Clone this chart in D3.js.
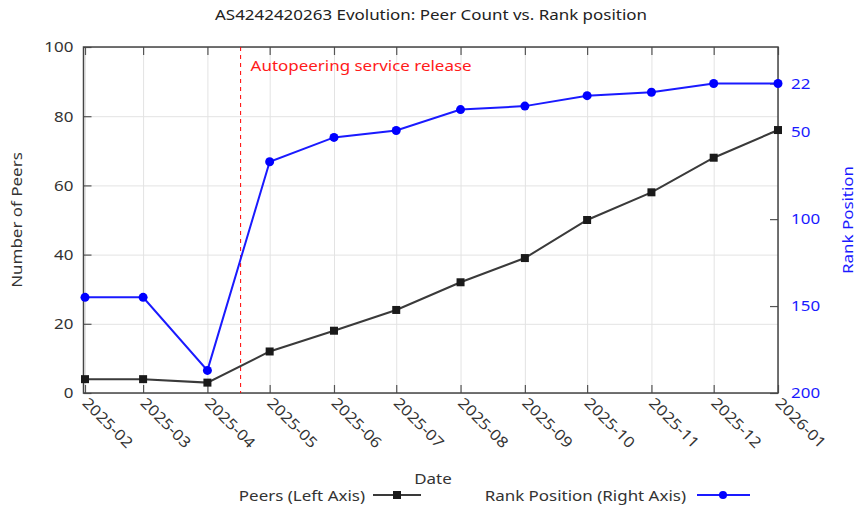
<!DOCTYPE html>
<html>
<head>
<meta charset="utf-8">
<script src="https://cdn.jsdelivr.net/npm/d3@7"></script>
<style>
  body { margin: 0; background: #fff; }
  text { font-family: "Noto Sans", sans-serif; font-size: 15px; }
</style>
</head>
<body>
<svg id="chart" width="858" height="506"></svg>
<script>
// DATA
const months = ["2025-02", "2025-03", "2025-04", "2025-05", "2025-06", "2025-07",
                "2025-08", "2025-09", "2025-10", "2025-11", "2025-12", "2026-01"];
const peers = [4, 4, 3, 12, 18, 24, 32, 39, 50, 58, 68, 76];
const ranks = [145, 145, 187, 67, 53, 49, 37, 35, 29, 27, 22, 22];
const peerTicks = [0, 20, 40, 60, 80, 100];
const rankTicks = [22, 50, 100, 150, 200];
const releaseDate = "2025-04-17";
const releaseLabel = "Autopeering service release";

// LAYOUT
const plotL = 83.5, plotR = 778, plotT = 47, plotB = 393;
const SX = 1.13; // the source renders its font a bit wide
const parse = d3.utcParse("%Y-%m");
const dates = months.map(parse);

const svg = d3.select("#chart");

// text placed at (x,y), stretched horizontally like the original
const label = (x, y, str, anchor, fill, rot) =>
  svg.append("text")
    .attr("transform", `translate(${x},${y})${rot ? ` rotate(${rot})` : ""} scale(${SX},1)`)
    .attr("text-anchor", anchor)
    .attr("fill", fill)
    .text(str);

const x = d3.scaleUtc()
  .domain([dates[0], dates[dates.length - 1]])
  .range([plotL + 1.5, plotR]);
const yL = d3.scaleLinear().domain([0, 100]).range([plotB, plotT]);
const yR = d3.scaleLinear().domain([1, 200]).range([plotT, plotB]);

// grid
svg.append("g")
  .attr("class", "grid")
  .attr("transform", `translate(0,${plotB})`)
  .call(d3.axisBottom(x).tickValues(dates).tickSize(-(plotB - plotT)).tickFormat(""));
svg.append("g")
  .attr("class", "grid")
  .attr("transform", `translate(${plotL},0)`)
  .call(d3.axisLeft(yL).tickValues(peerTicks).tickSize(-(plotR - plotL)).tickFormat(""));
svg.selectAll(".grid line").attr("stroke", "#e3e3e3");

// axes
const fmt = d3.utcFormat("%Y-%m");
const xAxis = svg.append("g")
  .attr("class", "axis")
  .attr("transform", `translate(0,${plotB})`)
  .call(d3.axisBottom(x).tickValues(dates).tickSize(-8).tickPadding(0).tickFormat(fmt));
xAxis.selectAll("text")
  .attr("font-size", null)
  .attr("fill", "#333")
  .attr("text-anchor", "start")
  .attr("dy", null)
  .attr("y", 0)
  .attr("transform", `translate(-4,11) rotate(45) scale(${SX},1)`);

svg.append("g")
  .attr("class", "axis")
  .attr("transform", `translate(0,${plotT})`)
  .call(d3.axisTop(x).tickValues(dates).tickSize(-8).tickFormat(""));

const yAxis = svg.append("g")
  .attr("class", "axis")
  .attr("transform", `translate(${plotL},0)`)
  .call(d3.axisLeft(yL).tickValues(peerTicks).tickSize(-8).tickPadding(9));
yAxis.selectAll("text")
  .attr("font-size", null).attr("fill", "#333")
  .attr("transform", `scale(${SX},1)`);

const rAxis = svg.append("g")
  .attr("class", "axis")
  .attr("transform", `translate(${plotR},0)`)
  .call(d3.axisRight(yR).tickValues(rankTicks).tickSize(-8).tickPadding(11.5));
rAxis.selectAll("text")
  .attr("font-size", null).attr("fill", "#1a1aff")
  .attr("transform", `scale(${SX},1)`);

svg.selectAll(".axis").attr("font-family", null);
svg.selectAll(".domain").remove();
svg.selectAll(".axis .tick line").attr("stroke", "#555").attr("stroke-width", 1.2);

// border
svg.append("rect")
  .attr("x", plotL).attr("y", plotT)
  .attr("width", plotR - plotL).attr("height", plotB - plotT)
  .attr("fill", "none").attr("stroke", "#444").attr("stroke-width", 1.5);

// release marker
const rx = x(d3.utcParse("%Y-%m-%d")(releaseDate));
svg.append("line")
  .attr("x1", rx).attr("x2", rx).attr("y1", plotT).attr("y2", plotB)
  .attr("stroke", "#ff0000").attr("stroke-width", 1).attr("stroke-dasharray", "4,4");
label(rx + 10, 71, releaseLabel, "start", "#ff1a1a");

// peers line
svg.append("path")
  .datum(peers)
  .attr("fill", "none").attr("stroke", "#3a3a3a").attr("stroke-width", 2)
  .attr("d", d3.line().x((d, i) => x(dates[i])).y(d => yL(d)));
svg.selectAll(".peer-pt")
  .data(peers)
  .enter().append("rect")
  .attr("class", "peer-pt")
  .attr("x", (d, i) => x(dates[i]) - 4).attr("y", d => yL(d) - 4)
  .attr("width", 8).attr("height", 8)
  .attr("fill", "#1a1a1a");

// rank line
svg.append("path")
  .datum(ranks)
  .attr("fill", "none").attr("stroke", "#1a1aff").attr("stroke-width", 2)
  .attr("d", d3.line().x((d, i) => x(dates[i])).y(d => yR(d)));
svg.selectAll(".rank-pt")
  .data(ranks)
  .enter().append("circle")
  .attr("class", "rank-pt")
  .attr("cx", (d, i) => x(dates[i])).attr("cy", d => yR(d))
  .attr("r", 4.5)
  .attr("fill", "#0000ff");

// titles
label(431, 20, "AS4242420263 Evolution: Peer Count vs. Rank position", "middle", "#222");
label(22, (plotT + plotB) / 2, "Number of Peers", "middle", "#333", -90);
label(853, (plotT + plotB) / 2, "Rank Position", "middle", "#1a1aff", -90);
label(433, 484, "Date", "middle", "#333");

// legend
label(365, 501, "Peers (Left Axis)", "end", "#333");
svg.append("line")
  .attr("x1", 373).attr("x2", 421).attr("y1", 495).attr("y2", 495)
  .attr("stroke", "#3a3a3a").attr("stroke-width", 2);
svg.append("rect")
  .attr("x", 393).attr("y", 491).attr("width", 8).attr("height", 8).attr("fill", "#1a1a1a");
label(686, 501, "Rank Position (Right Axis)", "end", "#333");
svg.append("line")
  .attr("x1", 697).attr("x2", 750).attr("y1", 495).attr("y2", 495)
  .attr("stroke", "#1a1aff").attr("stroke-width", 2);
svg.append("circle")
  .attr("cx", 723).attr("cy", 495).attr("r", 4).attr("fill", "#0000ff");
</script>
</body>
</html>
